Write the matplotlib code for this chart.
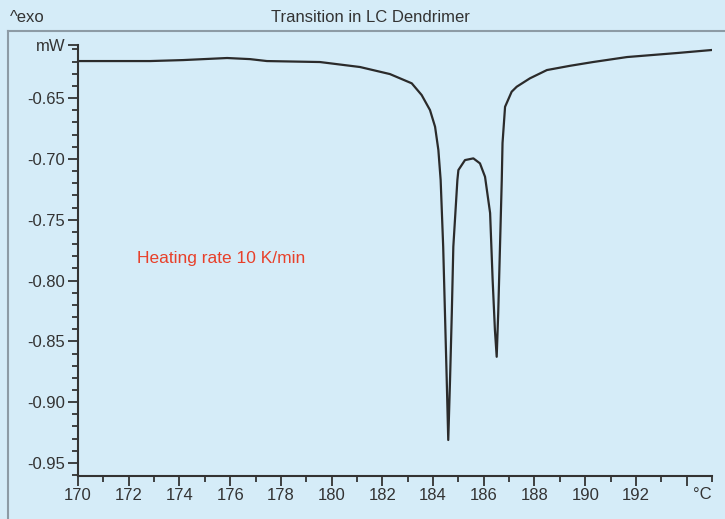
import matplotlib
matplotlib.use("Agg")
import matplotlib.pyplot as plt
from matplotlib.lines import Line2D
from matplotlib.ticker import MultipleLocator

# Data
temperature = [170.08, 172.84, 174.14, 175.88, 176.78, 177.45, 179.54, 181.12,
               182.30, 183.16, 183.55, 183.88, 184.08, 184.21, 184.30, 184.40,
               184.47, 184.54, 184.60, 184.67, 184.74, 184.80, 184.96, 185.00,
               185.26, 185.59, 185.85, 186.05, 186.25, 186.35, 186.44, 186.51,
               186.57, 186.64, 186.71, 186.74, 186.84, 187.10, 187.30, 187.82,
               188.49, 189.4, 190.31, 191.65, 193.62, 195.0]
heat_flow = [-0.6196, -0.6196, -0.6188, -0.6171, -0.618, -0.6196, -0.6204, -0.6245,
             -0.6303, -0.6379, -0.6475, -0.6599, -0.6736, -0.6927, -0.7174, -0.7722,
             -0.8267, -0.8818, -0.9311, -0.8818, -0.8267, -0.7722, -0.7174, -0.7092,
             -0.7010, -0.6996, -0.7037, -0.7147, -0.7445, -0.7996, -0.8407, -0.8627,
             -0.8267, -0.7722, -0.7174, -0.687, -0.6572, -0.6448, -0.6407, -0.6338,
             -0.627, -0.6235, -0.6204, -0.6163, -0.613, -0.6105]

x_ticks = [170, 172, 174, 176, 178, 180, 182, 184, 186, 188, 190, 192, 194]
x_tick_labels = ["170", "172", "174", "176", "178", "180", "182", "184", "186",
                 "188", "190", "192", ""]
y_ticks = [-0.95, -0.90, -0.85, -0.80, -0.75, -0.70, -0.65]
y_tick_labels = ["-0.95", "-0.90", "-0.85", "-0.80", "-0.75", "-0.70", "-0.65"]

title = "Transition in LC Dendrimer"
annotation = "Heating rate 10 K/min"

plt.rcParams['font.family'] = ['Liberation Sans', 'DejaVu Sans']

bg = "#d5ecf8"
fig = plt.figure(figsize=(7.25, 5.19), dpi=100, facecolor=bg)
ax = fig.add_axes([78/725, 43/519, (712-78)/725, (476-45)/519])
ax.set_facecolor(bg)

ax.plot(temperature, heat_flow, color="#2b2b2b", lw=1.6, solid_joinstyle="round")

ytop = -0.6064
ax.set_xlim(170, 195)
ax.set_ylim(-0.9607, ytop)

ax.set_xticks(x_ticks)
ax.set_xticklabels(x_tick_labels)
ax.set_yticks(y_ticks + [ytop])
ax.set_yticklabels(y_tick_labels + ["mW"])
ax.xaxis.set_minor_locator(MultipleLocator(1))
ax.yaxis.set_minor_locator(MultipleLocator(0.01))

for s in ["top", "right"]:
    ax.spines[s].set_visible(False)
for s in ["left", "bottom"]:
    ax.spines[s].set_color("#333333")
    ax.spines[s].set_linewidth(1.5)

ax.tick_params(which="major", length=7, width=1.3, color="#333333",
               labelsize=12, labelcolor="#333333", pad=2)
ax.tick_params(which="minor", length=4, width=1.3, color="#333333")

ax.text(1.0, -0.025, "°C", transform=ax.transAxes, ha="right", va="top",
        fontsize=12, color="#333333")

ax.text(172.33, -0.7815, annotation, color="#e8402a", fontsize=12.5,
        ha="left", va="center")

# outer frame
frame_c = "#8d9ba5"
fig.add_artist(Line2D([8/725, 1.0], [1 - 31/519, 1 - 31/519], color=frame_c, lw=1.5,
                      transform=fig.transFigure))
fig.add_artist(Line2D([8/725, 8/725], [0.0, 1 - 31/519], color=frame_c, lw=1.5,
                      transform=fig.transFigure))

fig.text(370/725, 1 - 17/519, title, ha="center", va="center", fontsize=12,
         color="#333333")
fig.text(10/725, 1 - 17/519, "^exo", ha="left", va="center", fontsize=12,
         color="#333333")

fig.savefig("out.png", dpi=100, facecolor=bg)
